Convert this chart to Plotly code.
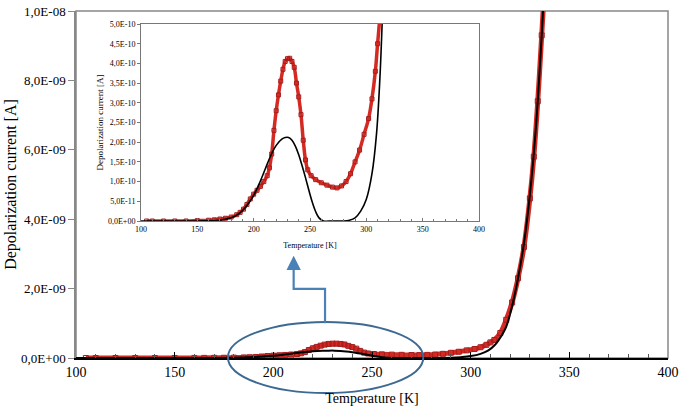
import plotly.graph_objects as go

# measured depolarization current (red squares)
temp_meas = [105, 110, 120, 130, 140, 150, 160, 165, 170, 175, 180, 185, 188, 191, 194, 197,
             200, 203, 206, 209, 212, 214, 216, 218, 220, 222, 224, 226, 228, 230, 232,
             234, 236, 238, 240, 242, 244, 246, 248, 251, 255, 260, 265, 270, 274, 278,
             282, 286, 290, 294, 298, 302, 305, 308, 310, 312, 315, 318, 321, 324, 327,
             330, 332, 334, 336, 337]
cur_meas = [0, 0, 0, 0, 0, 1e-12, 2e-12, 3e-12, 5e-12, 7e-12, 1.0e-11, 1.6e-11, 2.2e-11, 3.0e-11,
            4.2e-11, 5.6e-11, 6.8e-11, 7.8e-11, 8.8e-11, 1.0e-10, 1.15e-10, 1.35e-10, 1.7e-10,
            2.3e-10, 2.8e-10, 3.2e-10, 3.55e-10, 3.85e-10, 4.05e-10, 4.12e-10, 4.13e-10,
            4.05e-10, 3.9e-10, 3.5e-10, 3.15e-10, 2.7e-10, 2.05e-10, 1.55e-10, 1.3e-10,
            1.15e-10, 1.05e-10, 9.7e-11, 9.1e-11, 8.6e-11, 8.4e-11, 8.9e-11, 1.0e-10,
            1.2e-10, 1.5e-10, 1.8e-10, 2.2e-10, 2.6e-10, 3.1e-10, 3.8e-10, 4.5e-10, 5.2e-10,
            7.2e-10, 1.1e-09, 1.6e-09, 2.3e-09, 3.2e-09, 4.6e-09, 5.8e-09, 7.4e-09, 9.3e-09,
            1.03e-08]

# fitted curve (black line)
temp_fit = [100, 150, 170, 180, 185, 190, 195, 200, 205, 210, 215, 220, 225, 228, 231, 234,
            237, 240, 243, 246, 249, 252, 255, 258, 262, 270, 280, 285, 290, 295, 300, 305,
            309, 312, 314, 318, 321, 324, 327, 330, 333, 336, 337]
cur_fit = [0, 0, 2e-12, 8e-12, 1.5e-11, 2.6e-11, 4.3e-11, 6.5e-11, 9.5e-11, 1.3e-10, 1.65e-10,
           1.92e-10, 2.08e-10, 2.12e-10, 2.12e-10, 2.05e-10, 1.9e-10, 1.68e-10, 1.4e-10,
           1.1e-10, 7.8e-11, 4.8e-11, 2.4e-11, 8e-12, 0, 0, 0, 2e-12, 8e-12, 2.5e-11, 5.5e-11,
           1.2e-10, 2.2e-10, 3.6e-10, 5.0e-10, 9.0e-10, 1.5e-09, 2.3e-09, 3.3e-09, 4.7e-09,
           6.6e-09, 9.3e-09, 1.04e-08]

main_yticks = [0, 2e-9, 4e-9, 6e-9, 8e-9, 1e-8]
inset_yticks = [i * 5e-11 for i in range(11)]
x_ticks = [100, 150, 200, 250, 300, 350, 400]


def sci(v):
    return f"{v:.1E}".replace('.', ',')


serif = "Liberation Serif"
red_line = "#d42a22"
red_mark = "#a51c1c"

fig = go.Figure()

for ax in ["", "2"]:
    big = ax == ""
    fig.add_trace(go.Scatter(x=temp_meas, y=cur_meas, mode='lines+markers',
                             xaxis='x' + ax, yaxis='y' + ax, line_shape='spline',
                             line=dict(color=red_line, width=5 if big else 3.5),
                             marker=dict(symbol='square-open', size=5 if big else 4,
                                         color=red_mark, line=dict(width=1)),
                             showlegend=False))
    fig.add_trace(go.Scatter(x=temp_fit, y=cur_fit, mode='lines',
                             xaxis='x' + ax, yaxis='y' + ax, line_shape='spline',
                             line=dict(color='black', width=2 if big else 1.6),
                             showlegend=False))

ix0, ix1 = (141 - 76) / 592, (479 - 76) / 592
iy0, iy1 = (358 - 221) / 347, (358 - 24) / 347

fig.update_layout(
    width=685, height=412,
    margin=dict(l=76, r=17, t=11, b=54),
    paper_bgcolor='white', plot_bgcolor='white',
    font=dict(family=serif, color='black'),
    xaxis=dict(range=[100, 400], tickvals=x_ticks, showgrid=False, zeroline=False,
               automargin=False,
               showline=True, linecolor='black', linewidth=2,
               ticks='inside', ticklen=6, tickcolor='black',
               minor=dict(dtick=10, ticks='inside', ticklen=4, tickcolor='#555'),
               tickfont=dict(size=14),
               title=dict(text='Temperature [K]', font=dict(size=14), standoff=14)),
    yaxis=dict(range=[0, 1e-8], tickvals=main_yticks, ticktext=[sci(v) for v in main_yticks],
               automargin=False,
               showgrid=False, zeroline=False, showline=True, linecolor='#888', linewidth=1.5,
               ticks='outside', ticklen=6, tickcolor='#888', tickfont=dict(size=13),
               title=dict(text='Depolarization current [A]', font=dict(size=16), standoff=1)),
    xaxis2=dict(domain=[ix0, ix1], anchor='y2', range=[100, 400], tickvals=x_ticks,
                automargin=False,
                showgrid=False, zeroline=False, showline=True, linecolor='#777', linewidth=1,
                mirror=True, ticks='inside', ticklen=3, tickcolor='#777',
                minor=dict(dtick=10, ticks='inside', ticklen=2, tickcolor='#777'),
                tickfont=dict(size=8),
                title=dict(text='Temperature [K]', font=dict(size=8), standoff=9)),
    yaxis2=dict(domain=[iy0, iy1], anchor='x2', range=[0, 5e-10], tickvals=inset_yticks,
                ticktext=[sci(v) for v in inset_yticks], automargin=False,
                showgrid=False, zeroline=False, showline=True, linecolor='#777', linewidth=1,
                mirror=True, ticks='outside', ticklen=3, tickcolor='#777',
                tickfont=dict(size=8),
                title=dict(text='Depolarization current [A]', font=dict(size=9), standoff=2)),
)


def px(t):
    return (t - 100) / 300


def py(c):
    return c / 1e-8


# frame of the main chart (top and right edges)
fig.add_shape(type='rect', xref='paper', yref='paper', x0=0, x1=1, y0=0, y1=1,
              line=dict(color='#888', width=1.5), layer='below')
# white background behind the inset
fig.add_shape(type='rect', xref='paper', yref='paper', x0=ix0, x1=ix1, y0=iy0, y1=iy1,
              fillcolor='white', line=dict(width=0), layer='below')
# ellipse around the peak
fig.add_shape(type='circle', xref='paper', yref='paper',
              x0=px(177), x1=px(276), y0=py(-1.01e-9), y1=py(1.04e-9),
              line=dict(color='#3d6a92', width=2))
# elbow connector to the inset
fig.add_shape(type='path', xref='paper', yref='paper',
              path=f"M {px(226.2)} {py(1.0e-9)} L {px(226.2)} {py(1.99e-9)} "
                   f"L {px(210.3)} {py(1.99e-9)} L {px(210.3)} {py(2.7e-9)}",
              line=dict(color='#4a82b8', width=2.2))
fig.add_annotation(xref='paper', yref='paper', x=px(210.3), y=py(2.95e-9),
                   ax=0, ay=12, text='', showarrow=True, arrowhead=2, arrowsize=1.3,
                   arrowwidth=2.2, arrowcolor='#4a82b8')

fig.write_html("out.html", config={'displayModeBar': False},
               post_script="document.body.style.margin='0';")
